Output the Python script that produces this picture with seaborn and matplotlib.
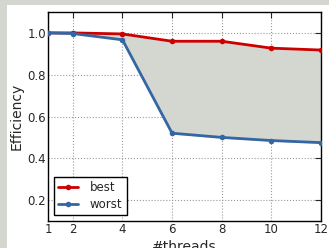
import numpy as np
import pandas as pd
import matplotlib
matplotlib.use("Agg")
import matplotlib.pyplot as plt
import seaborn as sns
from matplotlib.patches import Rectangle

# data
threads = [1, 2, 4, 6, 8, 10, 12]
best = [1.0, 1.0, 0.995, 0.96, 0.96, 0.927, 0.918]
worst = [1.0, 0.997, 0.967, 0.52, 0.50, 0.485, 0.475]
xticks = [1, 2, 4, 6, 8, 10, 12]
yticks = [0.2, 0.4, 0.6, 0.8, 1.0]

df = pd.DataFrame({
    "threads": threads * 2,
    "eff": best + worst,
    "case": ["best"] * len(best) + ["worst"] * len(worst),
})

sns.set_style("white")
plt.rcParams["font.family"] = ["DejaVu Sans"]

fig = plt.figure(figsize=(3.29, 2.48), dpi=100, facecolor="#d3d7cf")
# white page area, grey strip on the left and top
fig.patches.append(Rectangle((7 / 329, 0), 1, 1 - 5 / 248,
                             transform=fig.transFigure, facecolor="white",
                             edgecolor="none", zorder=-5))
ax = fig.add_axes([48 / 329, 1 - 221 / 248, (321 - 48) / 329, (221 - 12) / 248])
ax.set_facecolor("white")

ax.fill_between(threads, worst, best, color="#d3d7cf", zorder=1)

sns.lineplot(data=df, x="threads", y="eff", hue="case",
             palette={"best": "#cc0000", "worst": "#3465a4"},
             marker="o", markersize=4, markeredgewidth=0, linewidth=2,
             ax=ax, zorder=3)

ax.set_xlim(1, 12)
ax.set_ylim(0.1, 1.1)
ax.set_xticks(xticks)
ax.set_yticks(yticks)
ax.set_yticklabels([f"{v:.1f}" for v in yticks])
ax.grid(True, linestyle=":", color="#999999", linewidth=0.8)
ax.tick_params(direction="in", length=4, labelsize=8.5, width=0.8,
               top=True, right=True, pad=1.5)
for s in ax.spines.values():
    s.set_color("black")
    s.set_linewidth(1)

ax.set_xlabel("#threads", fontsize=10, labelpad=2.5)
ax.set_ylabel("Efficiency", fontsize=10, labelpad=2.5)

leg = ax.legend(loc="lower left", fontsize=8.5, fancybox=False, framealpha=1,
                handlelength=1.7, borderaxespad=0.5, handletextpad=1.0,
                borderpad=0.35, labelspacing=0.35)
leg.get_frame().set_edgecolor("black")
leg.get_frame().set_linewidth(1)
leg.set_title(None)

fig.savefig("out.png", dpi=100, facecolor=fig.get_facecolor())
